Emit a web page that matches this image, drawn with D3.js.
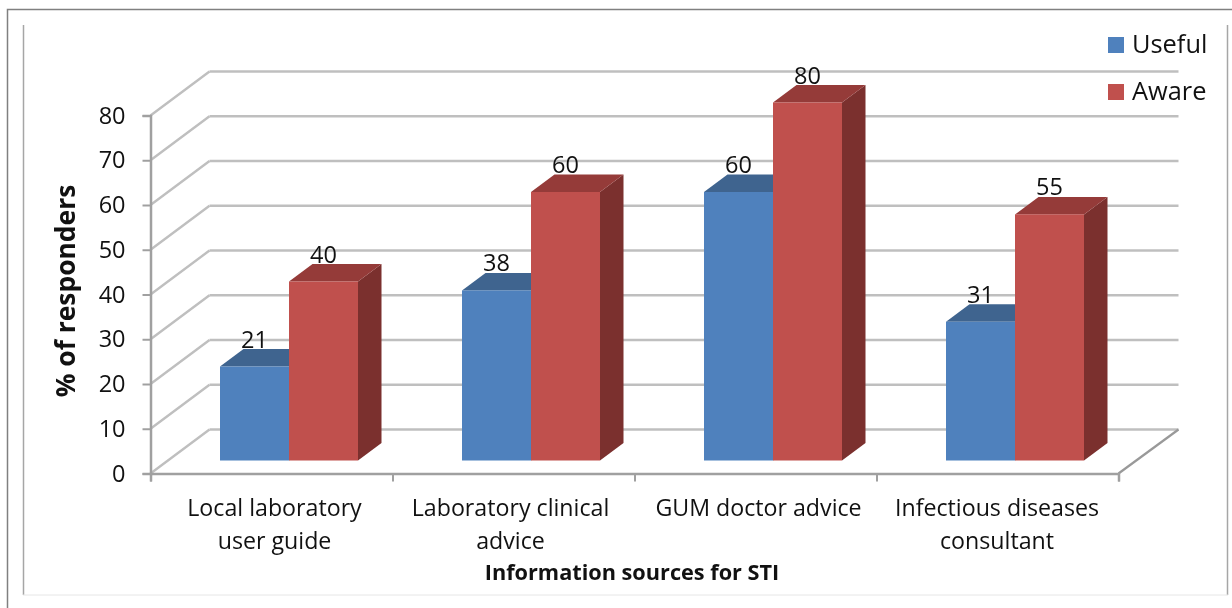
<!DOCTYPE html>
<html><head><meta charset="utf-8">
<script src="https://cdn.jsdelivr.net/npm/d3@7"></script>
<style>html,body{margin:0;padding:0;background:#fff}svg{display:block;filter:blur(0.4px)}text{font-family:"Open Sans",sans-serif;fill:#111}</style>
</head><body><svg id="c" width="1232" height="608"></svg>
<script>
const categories=[["Local laboratory","user guide"],["Laboratory clinical","advice"],["GUM doctor advice"],["Infectious diseases","consultant"]];
const seriesNames=["Useful","Aware"];
const useful=[21,38,60,31];
const aware=[40,60,80,55];
const yTicks=[0,10,20,30,40,50,60,70,80];
const labelNudge=[0,-6,0,-3.5];
const colors={Useful:["#4f81bd","#3f648f","#3a5d86"],Aware:["#c0504d","#953b39","#7b302e"]};

const svg=d3.select("#c");
const x=d3.scaleBand().domain(d3.range(categories.length)).range([150.5,1118.5]);
const y=d3.scaleLinear().domain([0,80]).range([473.5,115.5]);
const sub=d3.scaleBand().domain(seriesNames).range([69.5,207.5]);
const W={dx:59,dy:-44}, B={dx:23.5,dy:-17.5}, baseLift=13;
const grid="#bfbfbf", axisC="#a0a0a0";

// frames
svg.append("path").attr("d","M7.5,608V9.5H1232").attr("fill","none").attr("stroke","#808080").attr("stroke-width",1.5);
svg.append("path").attr("d","M23.5,25V595").attr("stroke","#a6a6a6").attr("stroke-width",1.5);
svg.append("path").attr("d","M1227.5,25V595").attr("stroke","#a6a6a6").attr("stroke-width",1.5);
svg.append("path").attr("d","M23,595H1228").attr("stroke","#e6e6e6").attr("stroke-width",1);

// walls
const line=(a,b,c,d,col,w)=>svg.append("line").attr("x1",a).attr("y1",b).attr("x2",c).attr("y2",d).attr("stroke",col).attr("stroke-width",w);
yTicks.forEach(t=>{
  const p=y(t);
  line(150.5,p,150.5+W.dx,p+W.dy,grid,2.4);
  line(150.5+W.dx,p+W.dy,1118.5+W.dx+1,p+W.dy,grid,2.4);
});
line(1118.5,473.5,1118.5+W.dx+1,473.5+W.dy,"#999",2.2);

// axes
const yAxis=d3.axisLeft(y).tickValues(yTicks).tickSize(8).tickPadding(17);
const gy=svg.append("g").attr("transform","translate(150.5,0)").call(yAxis);
const xAxis=d3.axisBottom(d3.scaleLinear().domain([0,4]).range([150.5,1118.5])).tickValues([0,1,2,3,4]).tickSize(8).tickFormat("");
const gx=svg.append("g").attr("transform","translate(0,473.5)").call(xAxis);
[gy,gx].forEach(g=>{g.selectAll("path,line").attr("stroke",axisC).attr("stroke-width",2);g.select(".domain").attr("stroke",axisC).attr("stroke-width",2.5);});
gy.selectAll("text").attr("font-size",23.5).attr("fill","#111").style("font-family",'"Open Sans",sans-serif');

// bars
const rows=d3.range(categories.length).flatMap(i=>[{i,s:"Useful",v:useful[i]},{i,s:"Aware",v:aware[i]}]);
const bar=svg.append("g").selectAll("g").data(rows).join("g");
const L=d=>x(d.i)+sub(d.s), R=d=>L(d)+sub.bandwidth(), T=d=>y(d.v)-baseLift, F=y(0)-baseLift;
bar.append("path").attr("fill",d=>colors[d.s][2]).attr("d",d=>`M${R(d)},${F}V${T(d)}l${B.dx},${B.dy}V${F+B.dy}Z`);
bar.append("path").attr("fill",d=>colors[d.s][1]).attr("d",d=>`M${L(d)},${T(d)}l${B.dx},${B.dy}H${R(d)+B.dx}l${-B.dx},${-B.dy}Z`);
bar.append("rect").attr("fill",d=>colors[d.s][0]).attr("x",L).attr("y",T).attr("width",sub.bandwidth()).attr("height",d=>F-T(d));
bar.append("text").attr("text-anchor","middle").attr("font-size",23.5)
  .attr("x",d=>L(d)+sub.bandwidth()/2).attr("y",d=>T(d)+B.dy-1.5).text(d=>d.v);

// category labels
const lab=svg.append("g").selectAll("text").data(categories).join("text")
  .attr("text-anchor","middle").attr("font-size",23.2)
  .attr("transform",(d,i)=>`translate(${x(i)+x.bandwidth()/2+3+labelNudge[i]},516)`);
lab.selectAll("tspan").data(d=>d).join("tspan").attr("x",0).attr("dy",(d,i)=>i?33:0).text(d=>d);

// axis titles
svg.append("text").attr("text-anchor","middle").attr("font-size",21.7).attr("font-weight",700)
  .attr("x",632).attr("y",580).text("Information sources for STI");
svg.append("text").attr("text-anchor","middle").attr("font-size",26.4).attr("font-weight",700)
  .attr("transform","translate(75,291) rotate(-90)").text("% of responders");

// legend
const leg=svg.append("g").selectAll("g").data(seriesNames).join("g").attr("transform",(d,i)=>`translate(1108,${37+i*47})`);
leg.append("rect").attr("width",16).attr("height",16).attr("fill",d=>colors[d][0]);
leg.append("text").attr("x",24).attr("y",16).attr("font-size",25.4).text(d=>d);
</script></body></html>
